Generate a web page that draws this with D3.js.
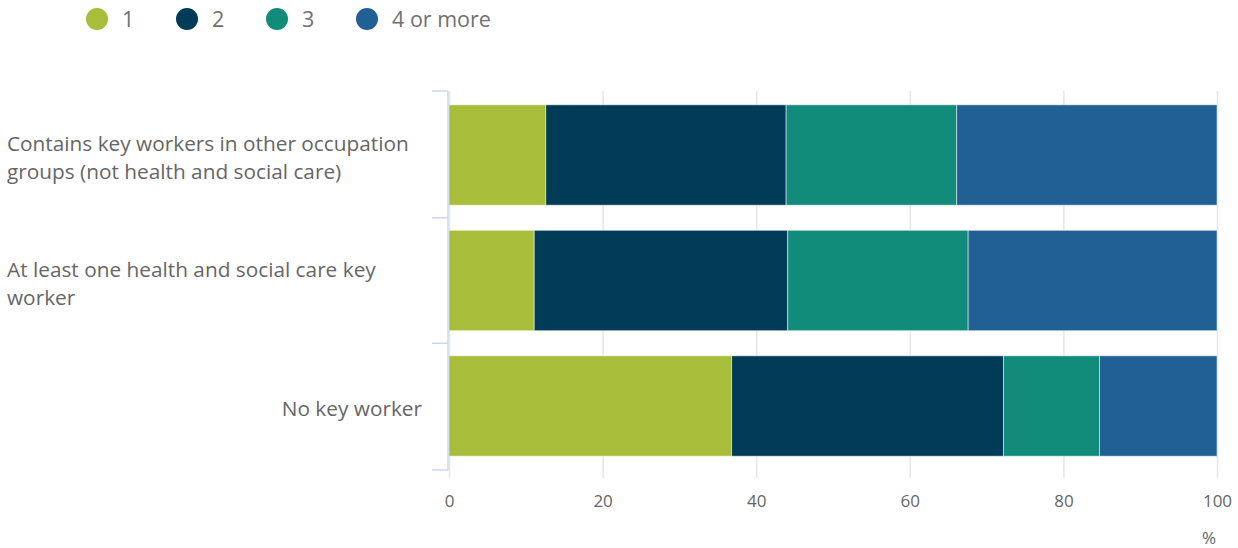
<!DOCTYPE html>
<html>
<head>
<meta charset="utf-8">
<script src="https://cdn.jsdelivr.net/npm/d3@7"></script>
<style>
  body { margin: 0; background: #fff; }
  text { font-family: "Open Sans", sans-serif; }
</style>
</head>
<body>
<div id="chart"></div>
<script>
// Data
const categories = [
  "Contains key workers in other occupation groups (not health and social care)",
  "At least one health and social care key worker",
  "No key worker"
];
const categoryLines = [
  ["Contains key workers in other occupation", "groups (not health and social care)"],
  ["At least one health and social care key", "worker"],
  ["No key worker"]
];
const seriesNames = ["1", "2", "3", "4 or more"];
const one = [12.6, 11.1, 36.8];
const two = [31.3, 33.0, 35.4];
const three = [22.2, 23.5, 12.5];
const fourPlus = [33.9, 32.4, 15.3];
const xTicks = [0, 20, 40, 60, 80, 100];
const colors = ["#a8bd3a", "#003c57", "#118c7b", "#206095"];

// Dimensions
const width = 1238;
const height = 548;
const marginTop = 91;
const marginBottom = 78;
const marginLeft = 449;
const marginRight = 21;

const rows = categories.map((c, i) => ({
  category: c,
  "1": one[i], "2": two[i], "3": three[i], "4 or more": fourPlus[i]
}));
const stacked = d3.stack().keys(seriesNames)(rows);

const x = d3.scaleLinear()
    .domain([0, 100])
    .range([marginLeft, width - marginRight]);

const y = d3.scaleBand()
    .domain(categories)
    .range([marginTop, height - marginBottom])
    .paddingInner(0.2)
    .paddingOuter(0.11);

const color = d3.scaleOrdinal().domain(seriesNames).range(colors);

const svg = d3.select("#chart").append("svg")
    .attr("width", width)
    .attr("height", height);

// Gridlines
svg.append("g")
  .selectAll("line")
  .data(xTicks)
  .join("line")
    .attr("x1", d => x(d) + 0.5)
    .attr("x2", d => x(d) + 0.5)
    .attr("y1", marginTop)
    .attr("y2", height - marginBottom + 8)
    .attr("stroke", "#e6e6e6")
    .attr("stroke-width", 1.5);

// Bars
svg.append("g")
  .selectAll("g")
  .data(stacked)
  .join("g")
    .attr("fill", d => color(d.key))
  .selectAll("rect")
  .data(d => d)
  .join("rect")
    .attr("x", d => x(d[0]))
    .attr("y", d => y(d.data.category))
    .attr("width", d => x(d[1]) - x(d[0]))
    .attr("height", y.bandwidth())
    .attr("stroke", "#fff")
    .attr("stroke-opacity", 0.5)
    .attr("stroke-width", 1);

// Category axis (line + ticks at band boundaries)
const axisX = marginLeft - 1;
const bounds = categories.map(c => y(c) - y.step() * y.paddingInner() / 2);
bounds[0] = marginTop;
bounds.push(height - marginBottom);
const yAxis = svg.append("g").attr("stroke", "#ccd6eb").attr("stroke-width", 1.5);
yAxis.append("line")
    .attr("x1", axisX).attr("x2", axisX)
    .attr("y1", marginTop).attr("y2", height - marginBottom);
yAxis.selectAll("line.tick")
  .data(bounds)
  .join("line")
    .attr("class", "tick")
    .attr("x1", axisX - 16).attr("x2", axisX)
    .attr("y1", d => d).attr("y2", d => d);

// Category labels
const labels = svg.append("g")
    .attr("fill", "#666")
    .attr("font-size", 20.8);
categories.forEach((c, i) => {
  const lines = categoryLines[i];
  const cy = y(c) + y.bandwidth() / 2 + 3;
  const lh = 28;
  const lx = lines.length > 1 ? 7 : 422;
  const t = labels.append("text")
      .attr("text-anchor", lines.length > 1 ? "start" : "end")
      .attr("x", lx)
      .attr("y", cy - (lines.length - 1) * lh / 2);
  lines.forEach((l, j) => {
    t.append("tspan")
      .attr("x", lx)
      .attr("dy", j === 0 ? "0.35em" : lh)
      .text(l);
  });
});

// Value axis labels
svg.append("g")
    .attr("transform", `translate(0,${height - marginBottom})`)
    .call(d3.axisBottom(x).tickValues(xTicks).tickSize(0).tickPadding(25))
    .call(g => g.select(".domain").remove())
    .call(g => g.selectAll("text")
        .attr("fill", "#666")
        .attr("font-size", 17)
        .attr("font-family", "Open Sans, sans-serif"));

svg.append("text")
    .attr("x", x(100) - 1)
    .attr("y", 544)
    .attr("text-anchor", "end")
    .attr("fill", "#666")
    .attr("font-size", 17)
    .text("%");

// Legend
const legendX = [97, 187, 277, 367];
const legend = svg.append("g").attr("font-size", 21.5).attr("fill", "#707070");
seriesNames.forEach((s, i) => {
  legend.append("circle")
      .attr("cx", legendX[i])
      .attr("cy", 19)
      .attr("r", 11)
      .attr("fill", color(s));
  legend.append("text")
      .attr("x", legendX[i] + 25)
      .attr("y", 19)
      .attr("dy", "0.36em")
      .text(s);
});
</script>
</body>
</html>
